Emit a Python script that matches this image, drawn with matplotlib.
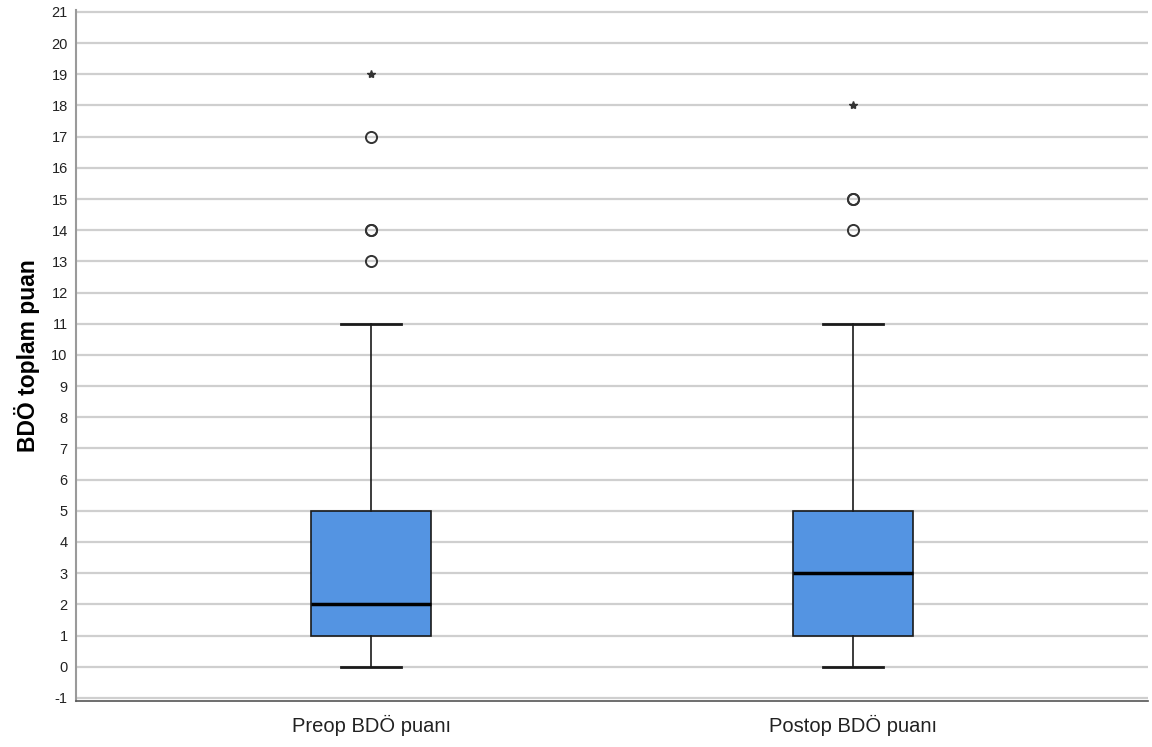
import matplotlib.pyplot as plt
import numpy as np

plt.rcParams['font.family'] = ['Liberation Sans', 'DejaVu Sans']
plt.rcParams['axes.unicode_minus'] = False

# data
groups = ['Preop BDÖ puanı', 'Postop BDÖ puanı']
whislo = [0, 0]
q1 = [1, 1]
med = [2, 3]
q3 = [5, 5]
whishi = [11, 11]
outliers = [[13, 14, 14, 17], [14, 15, 15]]
extremes = [[19], [18]]

fig = plt.figure(figsize=(11.52, 7.47), dpi=100)
ax = fig.add_axes([0.066, 0.0616, 0.9305, 0.9245])

stats = []
for i in range(len(groups)):
    stats.append({'whislo': whislo[i], 'q1': q1[i], 'med': med[i],
                  'q3': q3[i], 'whishi': whishi[i], 'fliers': []})

pos = np.arange(1, len(groups) + 1)
ax.bxp(stats, positions=pos, widths=0.25, patch_artist=True, showfliers=False,
       boxprops=dict(facecolor='#5494E2', edgecolor='#1a1a1a', linewidth=1.2),
       medianprops=dict(color='black', linewidth=2.5),
       whiskerprops=dict(color='#1a1a1a', linewidth=1.2),
       capprops=dict(color='#1a1a1a', linewidth=2.0), capwidths=0.125,
       zorder=3)

for i in range(len(groups)):
    ax.plot([pos[i]] * len(outliers[i]), outliers[i], 'o', ms=8,
            mfc='none', mec='#333333', mew=1.4, zorder=4)
    ax.plot([pos[i]] * len(extremes[i]), extremes[i], '*', ms=6,
            color='#333333', zorder=4)

ax.set_ylim(-1.1, 21.05)
ax.set_xlim(1 - 0.613, 2 + 0.613)
ax.set_yticks(np.arange(-1, 22, 1))
ax.set_xticks(pos)
ax.set_xticklabels(groups, fontsize=14.5, color='#222222')
ax.tick_params(axis='y', labelsize=10.5, length=0, pad=6, colors='#222222')
ax.tick_params(axis='x', length=0, pad=10)
ax.yaxis.grid(True, color='#cfcfcf', linewidth=1.6, zorder=0)
ax.set_axisbelow(True)

for s in ['top', 'right']:
    ax.spines[s].set_visible(False)
ax.spines['left'].set_color('#9a9a9a')
ax.spines['left'].set_linewidth(1.5)
ax.spines['bottom'].set_color('#555555')
ax.spines['bottom'].set_linewidth(1.2)

ax.set_ylabel('BDÖ toplam puan', fontsize=16.5, fontweight='bold', labelpad=8)

fig.savefig('out.png', dpi=100)
